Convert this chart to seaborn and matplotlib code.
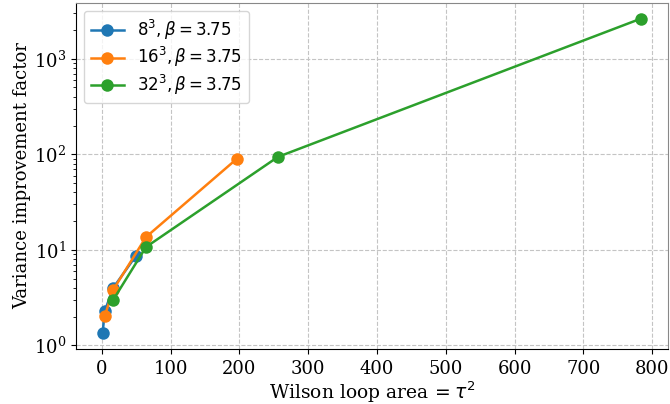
import matplotlib
matplotlib.use("Agg")
import matplotlib.pyplot as plt
import seaborn as sns
import pandas as pd

area_8 = [1, 4, 16, 49]
vif_8 = [1.34, 2.27, 3.96, 8.6]
area_16 = [4, 16, 64, 196]
vif_16 = [2.02, 3.78, 13.6, 89.5]
area_32 = [16, 64, 256, 784]
vif_32 = [2.97, 10.7, 94, 2630]
labels = [r"$8^3, \beta=3.75$", r"$16^3, \beta=3.75$", r"$32^3, \beta=3.75$"]
xticks = [0, 100, 200, 300, 400, 500, 600, 700, 800]

plt.rcParams["font.family"] = ["DejaVu Serif"]
plt.rcParams["font.size"] = 13

rows = []
for lab, xs, ys in zip(labels, [area_8, area_16, area_32], [vif_8, vif_16, vif_32]):
    for x, y in zip(xs, ys):
        rows.append({"area": x, "vif": y, "series": lab})
df = pd.DataFrame(rows)

fig, ax = plt.subplots(figsize=(6.7, 4.04), dpi=100)
palette = ["#1f77b4", "#ff7f0e", "#2ca02c"]
sns.lineplot(data=df, x="area", y="vif", hue="series", hue_order=labels,
             palette=palette, marker="o", markersize=9, markeredgewidth=0,
             linewidth=1.8, ax=ax, sort=False, estimator=None)
ax.set_yscale("log")
ax.grid(True, which="major", linestyle="--", color="#c4c4c4", linewidth=0.8)
ax.set_xlabel(r"Wilson loop area$\,=\tau^2$", fontsize=13.5, labelpad=1)
ax.set_ylabel("Variance improvement factor", fontsize=13, labelpad=2)
ax.tick_params(labelsize=13)
ax.tick_params(axis="x", pad=4.5)
ax.set_xticks(xticks)
ax.margins(x=0.05, y=0.05)
for s in ["top", "right"]:
    ax.spines[s].set_color("#888888")
ax.legend(fontsize=12, loc="upper left", title=None, labelspacing=0.2)
fig.subplots_adjust(left=0.113, right=0.997, top=0.993, bottom=0.136)
fig.savefig("out.png", dpi=100)
